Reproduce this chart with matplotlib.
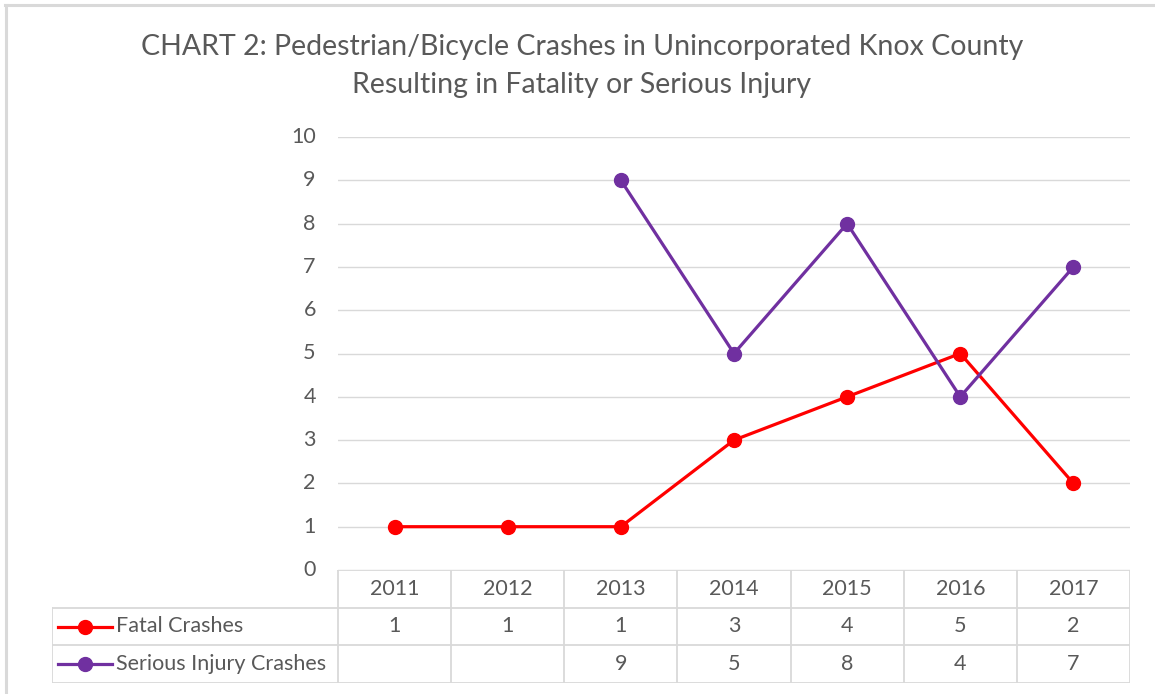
import matplotlib
matplotlib.use("Agg")
import matplotlib.pyplot as plt
from matplotlib.lines import Line2D
import numpy as np

plt.rcParams['font.family'] = ['Lato', 'DejaVu Sans']

years = ['2011', '2012', '2013', '2014', '2015', '2016', '2017']
fatal = [1, 1, 1, 3, 4, 5, 2]
serious = [None, None, 9, 5, 8, 4, 7]
series_names = ['Fatal Crashes', 'Serious Injury Crashes']
series_colors = ['#ff0000', '#7030a0']
title = 'CHART 2: Pedestrian/Bicycle Crashes in Unincorporated Knox County\nResulting in Fatality or Serious Injury'

W, H = 1155, 694
grid_c = '#d9d9d9'
text_c = '#595959'
fs = 15.5

fig = plt.figure(figsize=(W / 100, H / 100), dpi=100)

# chart border (top and left visible)
fig.add_artist(Line2D([5 / W, 1], [1 - 5 / H, 1 - 5 / H], color=grid_c, lw=2.2))
fig.add_artist(Line2D([6 / W, 6 / W], [0, 1 - 5 / H], color=grid_c, lw=2.2))

fig.text(582 / W, 1 - 66 / H, title, ha='center', va='center', fontsize=20.5,
         color=text_c, linespacing=1.6)

# plot area
px0, px1, py_top, py_bot = 338, 1130, 137, 570
ax = fig.add_axes([px0 / W, 1 - py_bot / H, (px1 - px0) / W, (py_bot - py_top) / H])
x = np.arange(len(years))
ser = np.array([np.nan if v is None else v for v in serious], dtype=float)
ax.plot(x, fatal, color=series_colors[0], lw=2.3, marker='o', ms=10, zorder=3)
ax.plot(x, ser, color=series_colors[1], lw=2.3, marker='o', ms=10, zorder=3)
ax.set_xlim(-0.5, len(years) - 0.5)
ax.set_ylim(0, 10)
ax.set_yticks(range(0, 11))
ax.set_xticks([])
ax.grid(axis='y', color=grid_c, lw=1)
ax.set_axisbelow(True)
for s in ax.spines.values():
    s.set_visible(False)
ax.tick_params(axis='y', length=0, pad=16, labelsize=fs, labelcolor=text_c)
for lbl in ax.get_yticklabels():
    lbl.set_verticalalignment('center')

# data table
tx0, ty_top, ty_bot = 52, 570, 683
tab = fig.add_axes([tx0 / W, 1 - ty_bot / H, (px1 - tx0) / W, (ty_bot - ty_top) / H])
unit = (px1 - px0) / len(years)
left_units = (px0 - tx0) / unit
tab.set_xlim(-0.5 - left_units, len(years) - 0.5)
tab.set_ylim(0, 3)
tab.axis('off')
lw_t = 1.3
xl = -0.5 - left_units
xr = len(years) - 0.5
tab.plot([-0.5, xr], [3, 3], color=grid_c, lw=lw_t)
for yy in [2, 1, 0]:
    tab.plot([xl, xr], [yy, yy], color=grid_c, lw=lw_t)
tab.plot([xl, xl], [0, 2], color=grid_c, lw=lw_t)
for i in range(len(years) + 1):
    tab.plot([i - 0.5, i - 0.5], [0, 3], color=grid_c, lw=lw_t)

for i, yr in enumerate(years):
    tab.text(i, 2.5, yr, ha='center', va='center', fontsize=fs, color=text_c)
rows = [fatal, serious]
for r, vals in enumerate(rows):
    yc = 1.5 - r
    for i, v in enumerate(vals):
        if v is not None:
            tab.text(i, yc, str(v), ha='center', va='center', fontsize=fs, color=text_c)
    # legend key
    kx0 = xl + 6 / unit
    kx1 = xl + 60 / unit
    tab.plot([kx0, kx1], [yc, yc], color=series_colors[r], lw=2.3)
    tab.plot([(kx0 + kx1) / 2], [yc], color=series_colors[r], marker='o', ms=10)
    tab.text(xl + 64 / unit, yc, series_names[r], ha='left', va='center',
             fontsize=fs, color=text_c)

fig.savefig('out.png', dpi=100)
